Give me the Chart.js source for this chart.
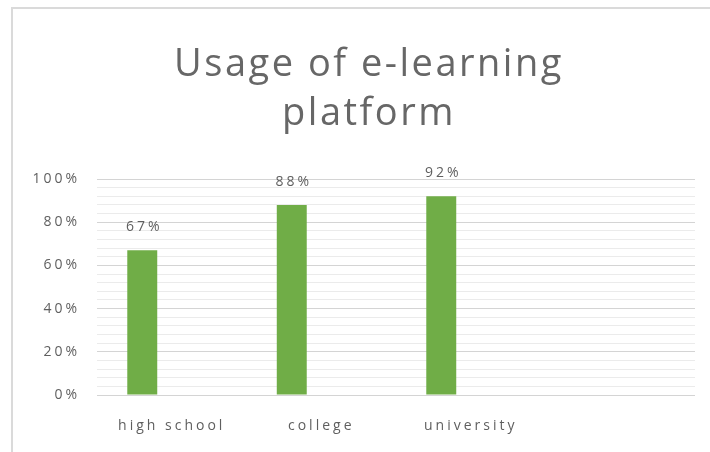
<!DOCTYPE html>
<html>
<head>
<meta charset="utf-8">
<script src="https://cdn.jsdelivr.net/npm/chart.js@4/dist/chart.umd.min.js"></script>
<style>
  html, body { margin: 0; padding: 0; background: #ffffff; width: 710px; height: 452px; overflow: hidden; }
  #frame { position: absolute; left: 11px; top: 7px; width: 800px; height: 600px;
           border-top: 2px solid #dadada; border-left: 2px solid #dadada; box-sizing: border-box; }
  #c { position: absolute; left: 0; top: 0; }
</style>
</head>
<body>
<div id="frame"></div>
<canvas id="c" width="710" height="452"></canvas>
<script>
// ---- data ----
const titleLines = ['Usage of e-learning', 'platform'];
const categories = ['high school', 'college', 'university', ''];
const usageValues = [67, 88, 92, null];
const emptySeries = [null, null, null, null];
const yTickLabels = [0, 20, 40, 60, 80, 100];
const yMin = 0;
const yMax = 100;
const minorStep = 4;

const textColor = '#5f5f5f';
const titleColor = '#676767';
const fontFamily = '"Open Sans", Lato, "Liberation Sans", sans-serif';
const smallSpacing = '3px';
const titleSpacing = '2.5px';

// letter spacing for axis tick labels (drawn by Chart.js scales)
const spacingPlugin = {
  id: 'spacing',
  beforeDraw(chart) { chart.ctx.letterSpacing = smallSpacing; },
  afterDraw(chart) { chart.ctx.letterSpacing = '0px'; }
};

// chart title drawn as canvas text, centred over the chart frame
const titlePlugin = {
  id: 'customTitle',
  afterDraw(chart) {
    const ctx = chart.ctx;
    ctx.save();
    ctx.letterSpacing = titleSpacing;
    ctx.font = '400 38px ' + fontFamily;
    ctx.fillStyle = titleColor;
    ctx.textAlign = 'center';
    ctx.textBaseline = 'alphabetic';
    const cx = (chart.width + 24) / 2 + 2;
    titleLines.forEach((line, i) => {
      ctx.fillText(line, cx, 76 + i * 49);
    });
    ctx.restore();
  }
};

const dataLabelPlugin = {
  id: 'dataLabels',
  afterDatasetsDraw(chart) {
    const ctx = chart.ctx;
    const meta = chart.getDatasetMeta(0);
    const ds = chart.data.datasets[0];
    ctx.save();
    ctx.letterSpacing = smallSpacing;
    ctx.font = '14px ' + fontFamily;
    ctx.fillStyle = textColor;
    ctx.textAlign = 'center';
    ctx.textBaseline = 'middle';
    meta.data.forEach((bar, i) => {
      const v = ds.data[i];
      if (v === null || v === undefined) return;
      ctx.fillText(v + '%', bar.x + 2, bar.y - 23);
    });
    ctx.restore();
  }
};

new Chart(document.getElementById('c'), {
  type: 'bar',
  data: {
    labels: categories,
    datasets: [
      {
        label: 'Usage',
        data: usageValues,
        backgroundColor: '#70ad47',
        borderWidth: 0,
        categoryPercentage: 0.789,
        barPercentage: 0.508
      },
      {
        label: 'Series 2',
        data: emptySeries,
        backgroundColor: '#a5a5a5',
        borderWidth: 0,
        categoryPercentage: 0.789,
        barPercentage: 0.508
      }
    ]
  },
  options: {
    responsive: false,
    animation: false,
    devicePixelRatio: 1,
    layout: { padding: { top: 179, left: 0, right: 15, bottom: 0 } },
    plugins: {
      legend: { display: false },
      tooltip: { enabled: false },
      title: { display: false }
    },
    scales: {
      x: {
        grid: { display: false, drawTicks: false },
        border: { display: false },
        ticks: {
          color: textColor,
          font: { family: fontFamily, size: 14 },
          padding: 23,
          maxRotation: 0,
          autoSkip: false
        },
        afterFit(scale) { scale.height = 57; }
      },
      y: {
        min: yMin,
        max: yMax,
        border: { display: false },
        grid: {
          drawTicks: false,
          lineWidth: 1,
          color(ctx) {
            return yTickLabels.includes(ctx.tick.value) ? '#d4d4d4' : '#ebebeb';
          }
        },
        ticks: {
          stepSize: minorStep,
          color: textColor,
          font: { family: fontFamily, size: 14 },
          padding: 17,
          autoSkip: false,
          callback(value) {
            return yTickLabels.includes(value) ? value + '%' : '';
          }
        },
        afterFit(scale) { scale.width = 97; }
      }
    }
  },
  plugins: [spacingPlugin, dataLabelPlugin, titlePlugin]
});
</script>
</body>
</html>
